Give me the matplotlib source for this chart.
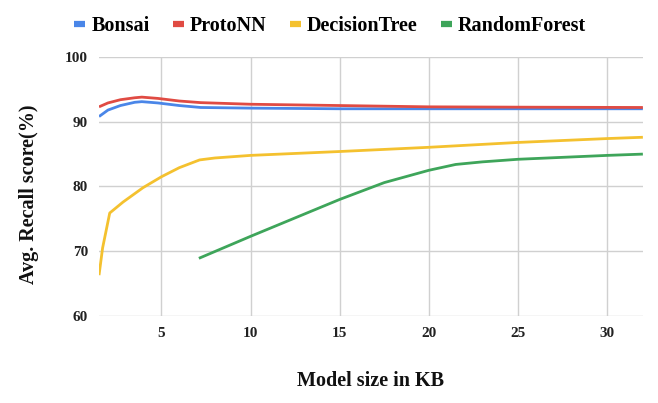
import matplotlib
matplotlib.use('Agg')
import matplotlib.pyplot as plt

# размеры моделей (KB) и средний recall (%) для каждой серии
bonsai_x = [1.5, 2.0, 2.7, 3.5, 3.9, 4.8, 6.0, 7.2, 10, 15, 20, 25, 32]
bonsai_y = [90.8, 91.8, 92.5, 93.0, 93.1, 92.9, 92.5, 92.2, 92.1, 92.0, 92.0, 92.0, 92.0]

proto_x = [1.5, 2.0, 2.7, 3.5, 3.9, 4.8, 6.0, 7.2, 10, 15, 20, 25, 32]
proto_y = [92.3, 92.9, 93.4, 93.7, 93.8, 93.6, 93.2, 92.95, 92.7, 92.5, 92.3, 92.25, 92.2]

tree_x = [1.5, 1.7, 2.1, 2.85, 3.96, 5.0, 6.0, 7.14, 8.0, 10, 15, 20, 25, 30, 32]
tree_y = [66.3, 70.5, 75.9, 77.6, 79.8, 81.5, 82.9, 84.1, 84.4, 84.8, 85.4, 86.05, 86.8, 87.4, 87.6]

forest_x = [7.1, 10, 15, 17.5, 20, 21.5, 23, 25, 30, 32]
forest_y = [68.9, 72.3, 78.0, 80.6, 82.5, 83.4, 83.8, 84.2, 84.8, 85.0]

names = ['Bonsai', 'ProtoNN', 'DecisionTree', 'RandomForest']
colors = ['#4a86e8', '#e04b43', '#f4c12f', '#3ea55a']

plt.rcParams['font.family'] = ['Liberation Serif', 'DejaVu Serif']
plt.rcParams['font.weight'] = 'bold'

fig = plt.figure(figsize=(6.58, 4.03), dpi=100)
ax = fig.add_axes([0.1505, 0.216, 0.8265, 0.6426])

series = [(bonsai_x, bonsai_y), (proto_x, proto_y), (tree_x, tree_y), (forest_x, forest_y)]
for (xs, ys), name, c in zip(series, names, colors):
    ax.plot(xs, ys, color=c, linewidth=2, label=name, solid_capstyle='butt')

ax.set_xlim(1.5, 32)
ax.set_ylim(60, 100)
ax.set_xticks([5, 10, 15, 20, 25, 30])
ax.set_yticks([60, 70, 80, 90, 100])
ax.grid(True, color='#d0d0d0', linewidth=1)
ax.set_axisbelow(True)
for s in ax.spines.values():
    s.set_visible(False)
ax.tick_params(length=0, labelsize=11, pad=8, labelcolor='#222222')
for lab in ax.get_xticklabels() + ax.get_yticklabels():
    lab.set_fontweight('bold')

ax.set_xlabel('Model size in KB', fontsize=14.5, fontweight='bold', labelpad=22, color='#111111')
ax.set_ylabel('Avg. Recall score(%)', fontsize=14.5, fontweight='bold', color='#111111')
ax.yaxis.set_label_coords(-0.11, 0.47)

leg = fig.legend(loc='center', bbox_to_anchor=(0.502, 0.935), ncol=4, frameon=False,
                 prop={'weight': 'bold', 'size': 14.5}, handlelength=0.55,
                 handletextpad=0.3, columnspacing=1.15)
for h in leg.get_lines():
    h.set_linewidth(4.5)

fig.savefig('out.png', dpi=100)
